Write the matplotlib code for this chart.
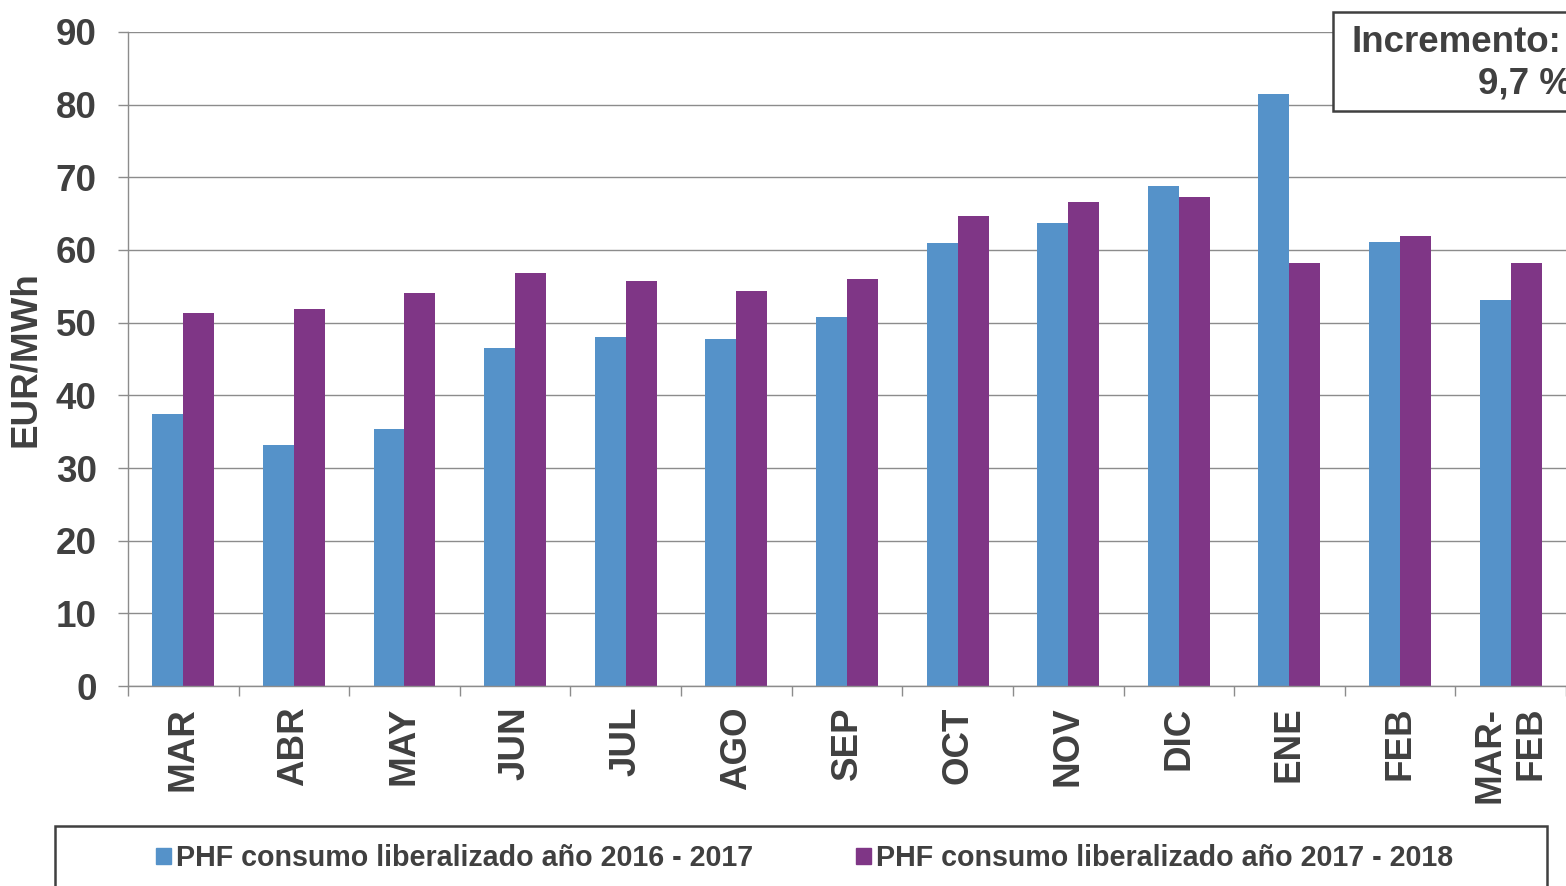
import matplotlib
matplotlib.use("Agg")
import matplotlib.pyplot as plt
import numpy as np
from matplotlib.patches import Rectangle, Patch

plt.rcParams['font.family'] = ['Liberation Sans', 'DejaVu Sans']
plt.rcParams['font.weight'] = 'bold'

meses = ['MAR', 'ABR', 'MAY', 'JUN', 'JUL', 'AGO', 'SEP', 'OCT', 'NOV',
         'DIC', 'ENE', 'FEB', 'MAR-\nFEB']
phf_2016_2017 = [37.4, 33.2, 35.4, 46.5, 48.0, 47.7, 50.8, 61.0, 63.7,
                 68.8, 81.5, 61.1, 53.1]
phf_2017_2018 = [51.3, 51.9, 54.1, 56.8, 55.7, 54.4, 56.0, 64.7, 66.6,
                 67.3, 58.2, 61.9, 58.2]
serie_1 = 'PHF consumo liberalizado año 2016 - 2017'
serie_2 = 'PHF consumo liberalizado año 2017 - 2018'
incremento = '9,7 %'

azul = '#5592C9'
morado = '#7F3686'
gris_texto = '#404040'
gris_linea = '#8C8C8C'

fig = plt.figure(figsize=(15.66, 8.86), dpi=100)
ax = fig.add_axes([0.0817, 0.2257, 0.9183, 0.7382])

x = np.arange(len(meses))
w = 0.28
ax.bar(x - w / 2, phf_2016_2017, w, color=azul, zorder=2)
ax.bar(x + w / 2, phf_2017_2018, w, color=morado, zorder=2)

ax.set_xlim(-0.5, len(meses) - 0.5)
ax.set_ylim(0, 90)
ax.set_yticks(np.arange(0, 91, 10))
ax.yaxis.grid(True, color=gris_linea, lw=1)
ax.set_axisbelow(True)

# ticks on group boundaries, labels centred under the groups
ax.set_xticks(np.arange(-0.5, len(meses), 1))
ax.set_xticklabels([])
ax.set_xticks(x, minor=True)
ax.set_xticklabels(meses, minor=True, rotation=90, multialignment='right',
                   fontsize=26.5, fontweight='bold', color=gris_texto)
ax.tick_params(axis='x', which='major', length=7.5, color=gris_linea, width=1)
ax.tick_params(axis='x', which='minor', length=0, pad=15)
ax.tick_params(axis='y', length=7.5, color=gris_linea, width=1, pad=15,
               labelsize=26.5, labelcolor=gris_texto)
for lbl in ax.get_yticklabels():
    lbl.set_fontweight('bold')

for s in ['top', 'right']:
    ax.spines[s].set_visible(False)
for s in ['left', 'bottom']:
    ax.spines[s].set_color(gris_linea)
    ax.spines[s].set_linewidth(1)

ax.set_ylabel('EUR/MWh', fontsize=26.5, fontweight='bold', color=gris_texto,
              labelpad=9)

# legend frame running off the bottom edge
fig.patches.append(Rectangle((0.0351, -0.1), 0.9527, 0.1677,
                             transform=fig.transFigure, fill=False,
                             edgecolor=gris_texto, lw=1.8))
handles = [Patch(color=azul, label=serie_1), Patch(color=morado, label=serie_2)]
fig.legend(handles=handles, loc='center', bbox_to_anchor=(0.514, 0.0315),
           ncol=2, frameon=False, handlelength=0.5,
           handleheight=0.5, handletextpad=0.2, columnspacing=3.6,
           labelcolor=gris_texto, prop={'weight': 'bold', 'size': 20.6})

# increment box in the upper right corner
fig.patches.append(Rectangle((0.8512, 0.8747), 0.3, 0.1118,
                             transform=fig.transFigure, facecolor='white',
                             edgecolor=gris_texto, lw=1.8, zorder=3))
fig.text(0.8633, 0.952, 'Incremento:', fontsize=26.5, fontweight='bold',
         color=gris_texto, ha='left', va='center', zorder=4)
fig.text(0.9438, 0.905, incremento, fontsize=26.5, fontweight='bold',
         color=gris_texto, ha='left', va='center', zorder=4)

fig.savefig('out.png', dpi=100)
